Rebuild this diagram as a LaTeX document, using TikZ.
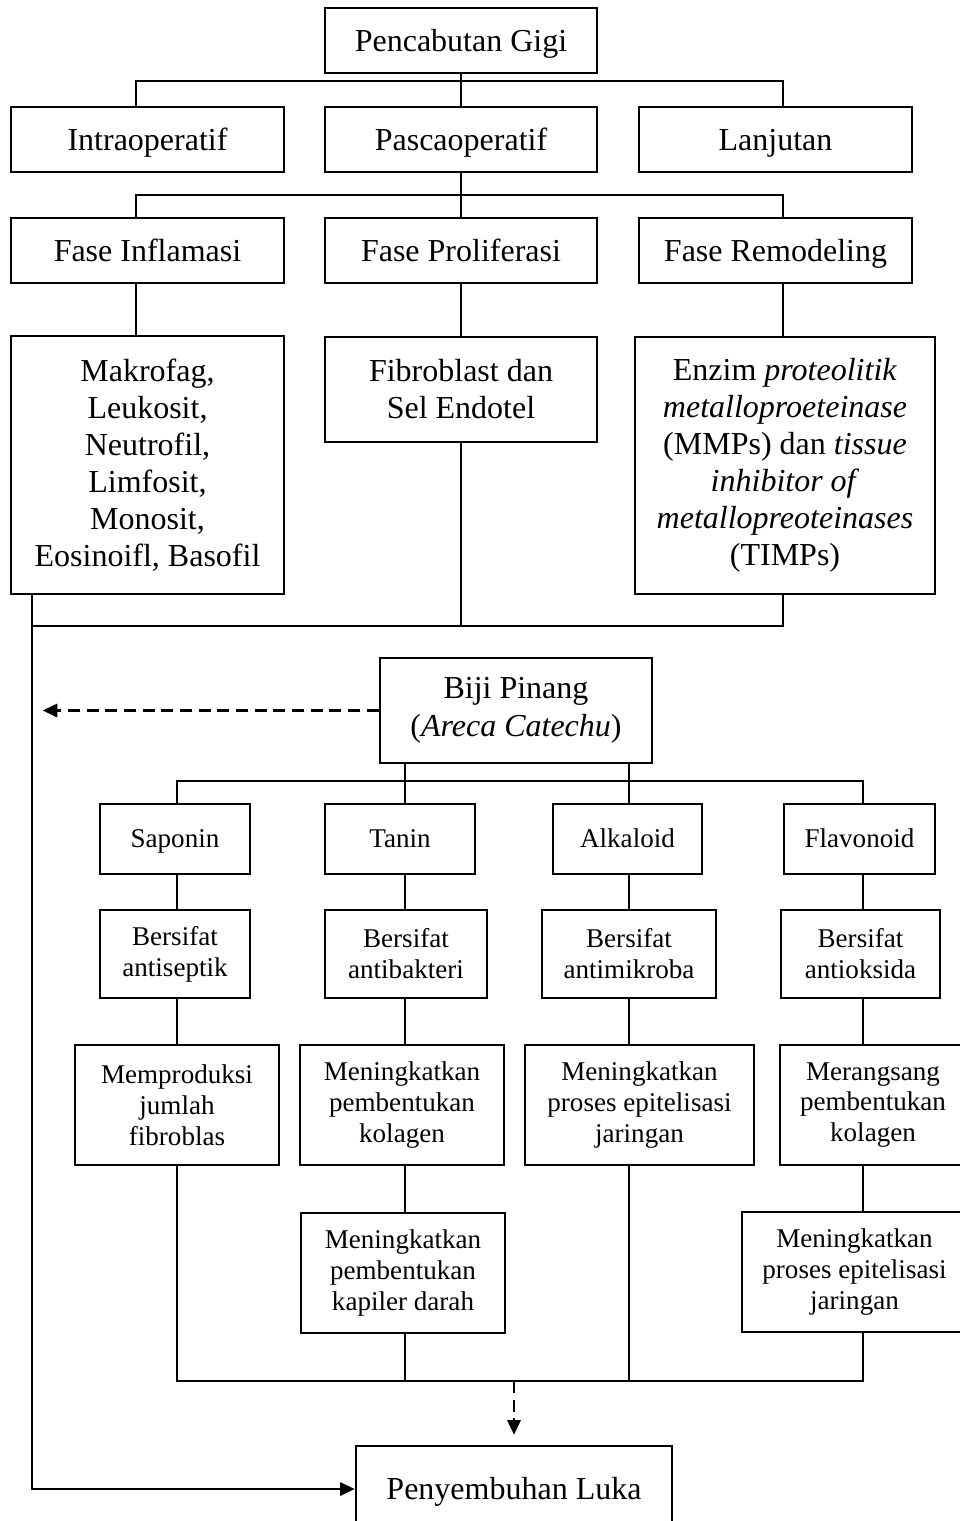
\documentclass[tikz,border=0pt]{standalone}
\usepackage{fontspec}
\setmainfont{Liberation Serif}
\usetikzlibrary{arrows.meta}
\begin{document}
\begin{tikzpicture}[x=0.75pt,y=-0.75pt,
  box/.style={draw, line width=1.9pt, inner sep=0pt, align=center},
  wh/.style 2 args={minimum width=#1*0.75pt, minimum height=#2*0.75pt},
  big/.style={font=\fontsize{24}{27.75}\selectfont},
  mid/.style={font=\fontsize{24}{28.5}\selectfont},
  small/.style={font=\fontsize{20.3}{23.2}\selectfont},
  onebig/.style={text height=20pt, text depth=4.1pt},
  onesmall/.style={text height=17pt, text depth=3.6pt},
  conn/.style={line width=1.5pt},
  dashconn/.style={line width=1.8pt, dash pattern=on 9pt off 5pt},
  tip/.style={-{Triangle[length=11pt,width=10pt]}}
]
\useasboundingbox (0,0) rectangle (960,1521);

% column / bus coordinates
\coordinate (cL) at (32,0);
\coordinate (cA) at (136,0);
\coordinate (cC) at (783,0);
\coordinate (c1) at (177,0);
\coordinate (c2) at (405,0);
\coordinate (c3) at (629,0);
\coordinate (c4) at (863,0);
\coordinate (bus1) at (0,81);
\coordinate (bus2) at (0,195);
\coordinate (bus3) at (0,626);
\coordinate (bus4) at (0,781);
\coordinate (bus5) at (0,1381);

% level 1-3
\node[box,big,onebig,wh={272}{65}] (top) at (461,40.5) {Pencabutan Gigi};
\node[box,big,onebig,wh={273}{65}] (intra) at (147.5,139.5) {Intraoperatif};
\node[box,big,onebig,wh={272}{65}] (pasca) at (461,139.5) {Pascaoperatif};
\node[box,big,onebig,wh={273}{65}] (lanj) at (775.5,139.5) {Lanjutan};
\node[box,big,onebig,wh={273}{65}] (finf) at (147.5,250.5) {Fase Inflamasi};
\node[box,big,onebig,wh={272}{65}] (fpro) at (461,250.5) {Fase Proliferasi};
\node[box,big,onebig,wh={273}{65}] (frem) at (775.5,250.5) {Fase Remodeling};

\node[box,big,wh={273}{258}] (makro) at (147.5,465) {Makrofag,\\Leukosit,\\Neutrofil,\\Limfosit,\\Monosit,\\Eosinoifl, Basofil};
\node[box,big,wh={272}{105}] (fibro) at (461,389.5) {Fibroblast dan\\Sel Endotel};
\node[box,big,wh={300}{257}] (enzim) at (785,465.5) {Enzim \textit{proteolitik}\\\textit{metalloproeteinase}\\(MMPs) dan \textit{tissue}\\\textit{inhibitor of}\\\textit{metallopreoteinases}\\(TIMPs)};

% Biji Pinang
\node[box,mid,wh={272}{105}] (biji) at (516,710.5) {Biji Pinang\\(\textit{Areca Catechu})};

\node[box,small,onesmall,wh={150}{70}] (sap) at (175,839) {Saponin};
\node[box,small,onesmall,wh={150}{70}] (tan) at (400,839) {Tanin};
\node[box,small,onesmall,wh={149}{70}] (alk) at (627.5,839) {Alkaloid};
\node[box,small,onesmall,wh={151}{70}] (fla) at (859.5,839) {Flavonoid};

\node[box,small,wh={150}{88}] (b1) at (175,954) {Bersifat\\antiseptik};
\node[box,small,wh={162}{88}] (b2) at (406,954) {Bersifat\\antibakteri};
\node[box,small,wh={174}{88}] (b3) at (629,954) {Bersifat\\antimikroba};
\node[box,small,wh={159}{88}] (b4) at (860.5,954) {Bersifat\\antioksida};

\node[box,small,wh={204}{120}] (m1) at (177,1105) {Memproduksi\\jumlah\\fibroblas};
\node[box,small,wh={204}{120}] (m2) at (402,1105) {Meningkatkan\\pembentukan\\kolagen};
\node[box,small,wh={229}{120}] (m3) at (639.5,1105) {Meningkatkan\\proses epitelisasi\\jaringan};
\node[box,small,wh={186}{120}] (m4) at (873,1105) {Merangsang\\pembentukan\\kolagen};

\node[box,small,wh={204}{120}] (k1) at (403,1273) {Meningkatkan\\pembentukan\\kapiler darah};
\node[box,small,wh={225}{120}] (k2) at (854.5,1272) {Meningkatkan\\proses epitelisasi\\jaringan};

\node[box,mid,onebig,wh={316}{86}] (peny) at (514,1489) {Penyembuhan Luka};

% connectors top
\draw[conn] (top.south) -- (pasca.north);
\draw[conn] (intra.north -| cA) -- (bus1 -| cA) -- (bus1 -| cC) -- (lanj.north -| cC);
\draw[conn] (pasca.south) -- (fpro.north);
\draw[conn] (finf.north -| cA) -- (bus2 -| cA) -- (bus2 -| cC) -- (frem.north -| cC);
\draw[conn] (finf.south -| cA) -- (makro.north -| cA);
\draw[conn] (fpro.south) -- (fibro.north);
\draw[conn] (frem.south -| cC) -- (enzim.north -| cC);

% bus 3
\draw[conn] (bus3 -| cL) -- (bus3 -| cC) -- (enzim.south -| cC);
\draw[conn] (fibro.south) -- (fibro.south |- bus3);
\draw[conn,tip] (makro.south -| cL) |- (peny.west);

% Biji Pinang dashed arrow
\draw[dashconn,tip,shorten >=8pt] (biji.west) -- (biji.west -| cL);

% Biji bus
\draw[conn] (sap.north -| c1) -- (bus4 -| c1) -- (bus4 -| c4) -- (fla.north -| c4);
\draw[conn] (biji.south -| c2) -- (tan.north -| c2);
\draw[conn] (biji.south -| c3) -- (alk.north -| c3);

\draw[conn] (sap.south -| c1) -- (b1.north -| c1);
\draw[conn] (tan.south -| c2) -- (b2.north -| c2);
\draw[conn] (alk.south -| c3) -- (b3.north -| c3);
\draw[conn] (fla.south -| c4) -- (b4.north -| c4);

\draw[conn] (b1.south -| c1) -- (m1.north -| c1);
\draw[conn] (b2.south -| c2) -- (m2.north -| c2);
\draw[conn] (b3.south -| c3) -- (m3.north -| c3);
\draw[conn] (b4.south -| c4) -- (m4.north -| c4);

\draw[conn] (m2.south -| c2) -- (k1.north -| c2);
\draw[conn] (m4.south -| c4) -- (k2.north -| c4);

% bus 5
\draw[conn] (m1.south -| c1) -- (bus5 -| c1) -- (bus5 -| c4) -- (k2.south -| c4);
\draw[conn] (k1.south -| c2) -- (bus5 -| c2);
\draw[conn] (m3.south -| c3) -- (bus5 -| c3);
\draw[dashconn,tip,shorten >=7.5pt] (peny.north |- bus5) -- (peny.north);
\end{tikzpicture}
\end{document}
